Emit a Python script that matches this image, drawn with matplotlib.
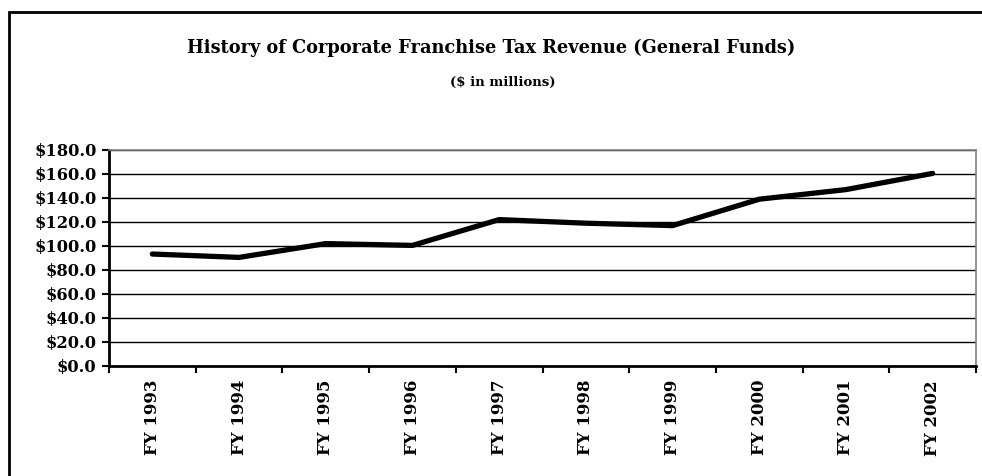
import matplotlib
matplotlib.use("Agg")
import matplotlib.pyplot as plt
import numpy as np
from matplotlib.patches import Rectangle

years = ["FY 1993", "FY 1994", "FY 1995", "FY 1996", "FY 1997",
         "FY 1998", "FY 1999", "FY 2000", "FY 2001", "FY 2002"]
revenue = [93.3, 90.5, 102.0, 100.5, 122.0, 119.0, 117.0, 139.0, 147.0, 160.5]
y_ticks = [0, 20, 40, 60, 80, 100, 120, 140, 160, 180]

plt.rcParams['font.family'] = ['DejaVu Serif']
plt.rcParams['font.weight'] = 'bold'

fig = plt.figure(figsize=(9.82, 4.76), dpi=100)
ax = fig.add_axes([109/982, 1-366/476, (976-109)/982, (366-150)/476])

x = np.arange(len(years))
ax.plot(x, revenue, color='black', lw=3.8, solid_capstyle='round', solid_joinstyle='round', zorder=3)

ax.set_xlim(-0.5, len(years)-0.5)
ax.set_ylim(0, 180)
ax.set_yticks(y_ticks)
ax.set_yticklabels(['${:.1f}'.format(v) for v in y_ticks], fontsize=11.7, fontweight='bold')
ax.yaxis.grid(True, color='black', lw=1)
ax.set_axisbelow(True)

# category boundaries get the tick marks, labels sit in the middle
ax.set_xticks(np.arange(-0.5, len(years)), labels=[''] * (len(years)+1))
ax.set_xticks(x, labels=years, minor=True)
ax.tick_params(axis='x', which='minor', length=0, pad=10, labelrotation=90, labelsize=12)
ax.tick_params(axis='x', which='major', length=5, width=1.5, direction='out', color='black')
ax.tick_params(axis='y', length=5, width=1.5, direction='out', pad=4)
for lab in ax.get_xticklabels(minor=True):
    lab.set_fontweight('bold')

ax.spines['left'].set_linewidth(2)
ax.spines['bottom'].set_linewidth(2)
ax.spines['top'].set_color('#808080')
ax.spines['right'].set_color('#808080')
ax.spines['top'].set_linewidth(1.2)
ax.spines['right'].set_linewidth(1.2)

fig.text(491/982, 1-48/476, 'History of Corporate Franchise Tax Revenue (General Funds)',
         ha='center', va='center', fontsize=12.8, fontweight='bold')
fig.text(503/982, 1-82/476, '($ in millions)', ha='center', va='center',
         fontsize=9.5, fontweight='bold')

# outer chart frame, open at right and bottom
fig.patches.append(Rectangle((9/982, -0.1), 1.1, 1-12/476+0.1, transform=fig.transFigure,
                             fill=False, ec='black', lw=2, clip_on=False))

fig.savefig('out.png', dpi=100)
